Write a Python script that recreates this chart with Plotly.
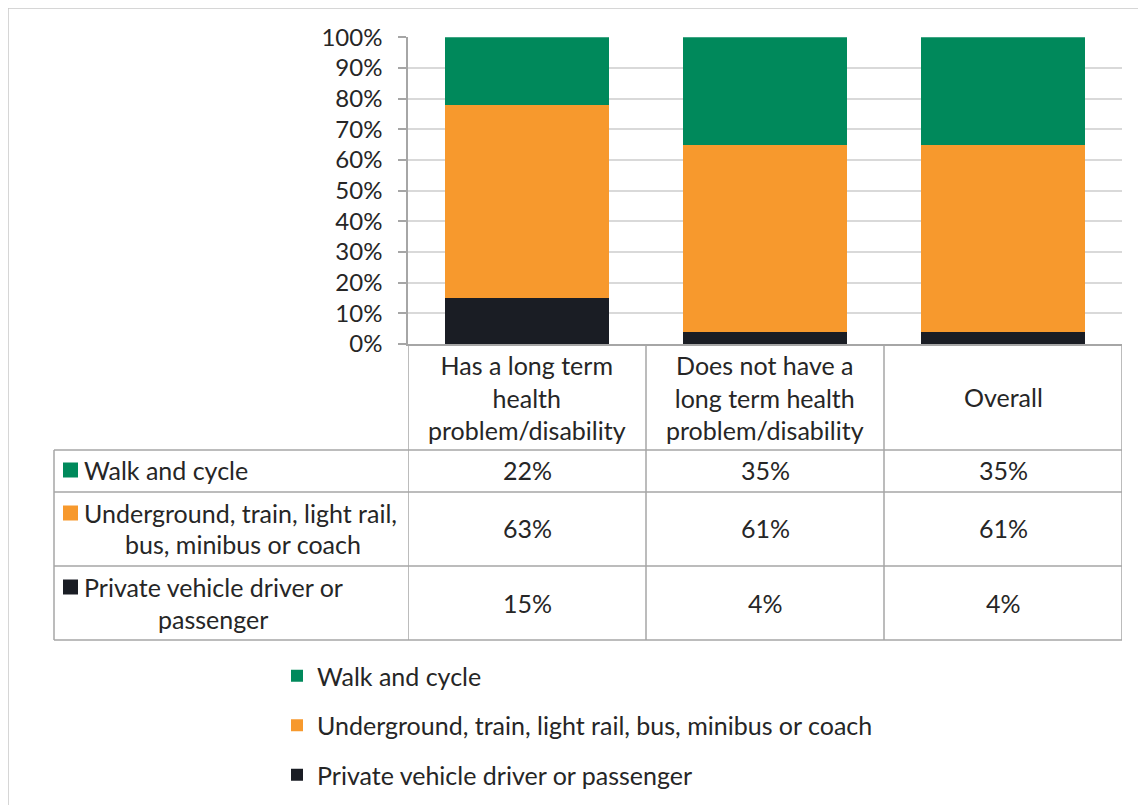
import plotly.graph_objects as go

# ---------------- data ----------------
categories = ["Has a long term<br>health<br>problem/disability",
              "Does not have a<br>long term health<br>problem/disability",
              "Overall"]
series_names = ["Walk and cycle",
                "Underground, train, light rail, bus, minibus or coach",
                "Private vehicle driver or passenger"]
table_row_lines = [["Walk and cycle"],
                   ["Underground, train, light rail,", "bus, minibus or coach"],
                   ["Private vehicle driver or", "passenger"]]
walk_cycle = [0.22, 0.35, 0.35]
public_transport = [0.63, 0.61, 0.61]
private_vehicle = [0.15, 0.04, 0.04]
series_values = [walk_cycle, public_transport, private_vehicle]
series_colors = ["#00895B", "#F7992D", "#1A1D24"]
y_ticks = [i / 10 for i in range(11)]

# ---------------- layout helpers ----------------
W, H = 1146, 805
OX, OY = 8, 8   # page body margin


def px(x):
    return (x - OX) / W


def py(y):
    return 1 - (y - OY) / H


FONT = "Lato"
TXT = "#262626"
GRID = "#D9D9D9"
LINE = "#A6A6A6"
FS = 25
FS_TICK = 24

fig = go.Figure()
x_idx = list(range(len(categories)))
# stack from bottom: private, public, walk; legend ranks keep walk first
for rank, name, vals, col in reversed(list(zip(range(1, 4), series_names, series_values, series_colors))):
    fig.add_trace(go.Bar(x=x_idx, y=vals, name=name, marker_color=col,
                         marker_line_width=0, legendgroup=name, legendrank=rank,
                         hoverinfo="skip"))

shapes = []
annotations = []

# table grid
table_left, axis_left, table_right = 54, 408, 1122
row_edges = [344, 450, 492, 566, 640]
for xb in [-0.5, 0.5, 1.5, 2.5]:
    shapes.append(dict(type="line", xref="x", yref="paper", x0=xb, x1=xb,
                       y0=py(row_edges[0]), y1=py(row_edges[-1]),
                       line=dict(color=LINE, width=1.5)))
shapes.append(dict(type="line", xref="paper", yref="paper", x0=px(table_left), x1=px(table_left),
                   y0=py(row_edges[1]), y1=py(row_edges[-1]),
                   line=dict(color=LINE, width=1.5)))
for yb in row_edges[1:]:
    shapes.append(dict(type="line", xref="paper", yref="paper", x0=px(table_left), x1=px(table_right),
                       y0=py(yb), y1=py(yb), line=dict(color=LINE, width=1.5)))

# outer chart border (top & left)
shapes.append(dict(type="line", xref="paper", yref="paper", x0=px(8), x1=1, y0=py(8), y1=py(8),
                   line=dict(color="#C8C8C8", width=1.5)))
shapes.append(dict(type="line", xref="paper", yref="paper", x0=px(8), x1=px(8), y0=0, y1=py(8),
                   line=dict(color="#C8C8C8", width=1.5)))

# header labels
for i, cat in enumerate(categories):
    annotations.append(dict(x=i, xref="x", y=py(397), yref="paper", text=cat,
                            showarrow=False, xanchor="center", yanchor="middle",
                            font=dict(family=FONT, size=FS, color=TXT)))

# rows
row_first_line_y = [470, 513, 587]
row_second_line_y = [None, 544, 619]
row_second_line_cx = [None, 243, 213]
row_value_y = [470, 528, 603]
for r in range(3):
    y1 = row_first_line_y[r]
    shapes.append(dict(type="rect", xref="paper", yref="paper",
                       x0=px(63), x1=px(78), y0=py(y1 - 7.5), y1=py(y1 + 7.5),
                       fillcolor=series_colors[r], line=dict(width=0)))
    lines = table_row_lines[r]
    annotations.append(dict(x=px(82), xref="paper", y=py(y1), yref="paper", text=lines[0],
                            showarrow=False, xanchor="left", yanchor="middle",
                            font=dict(family=FONT, size=FS, color=TXT)))
    if len(lines) > 1:
        annotations.append(dict(x=px(row_second_line_cx[r]), xref="paper", y=py(row_second_line_y[r]),
                                yref="paper", text=lines[1], showarrow=False,
                                xanchor="center", yanchor="middle",
                                font=dict(family=FONT, size=FS, color=TXT)))
    for c, v in enumerate(series_values[r]):
        annotations.append(dict(x=c, xref="x", y=py(row_value_y[r]), yref="paper",
                                text=f"{round(v * 100)}%", showarrow=False,
                                xanchor="center", yanchor="middle",
                                font=dict(family=FONT, size=FS, color=TXT)))

fig.update_layout(
    width=W, height=H,
    margin=dict(l=0, r=0, t=0, b=0, autoexpand=False),
    paper_bgcolor="white", plot_bgcolor="white",
    barmode="stack", bargap=0.31,
    font=dict(family=FONT, size=FS, color=TXT),
    xaxis=dict(domain=[px(axis_left), px(table_right)], range=[-0.5, 2.5],
               showticklabels=False, showgrid=False, zeroline=False,
               showline=True, linecolor=LINE, linewidth=1.5, ticks="", fixedrange=True),
    yaxis=dict(domain=[py(344), py(37.3)], range=[0, 1], tickvals=y_ticks,
               tickformat=".0%", ticks="outside", ticklen=8, tickcolor=LINE, tickwidth=1.5,
               showline=True, linecolor=LINE, linewidth=1.5,
               showgrid=True, gridcolor=GRID, gridwidth=1.5, zeroline=False,
               ticklabelstandoff=11, automargin=False,
               tickfont=dict(family=FONT, size=FS_TICK, color=TXT)),
    showlegend=True,
    legend=dict(x=px(277), y=py(653), xanchor="left", yanchor="top",
                traceorder="grouped", tracegroupgap=14,
                font=dict(family=FONT, size=FS, color=TXT),
                bgcolor="rgba(0,0,0,0)"),
    shapes=shapes, annotations=annotations,
)

fig.write_html("out.html")
